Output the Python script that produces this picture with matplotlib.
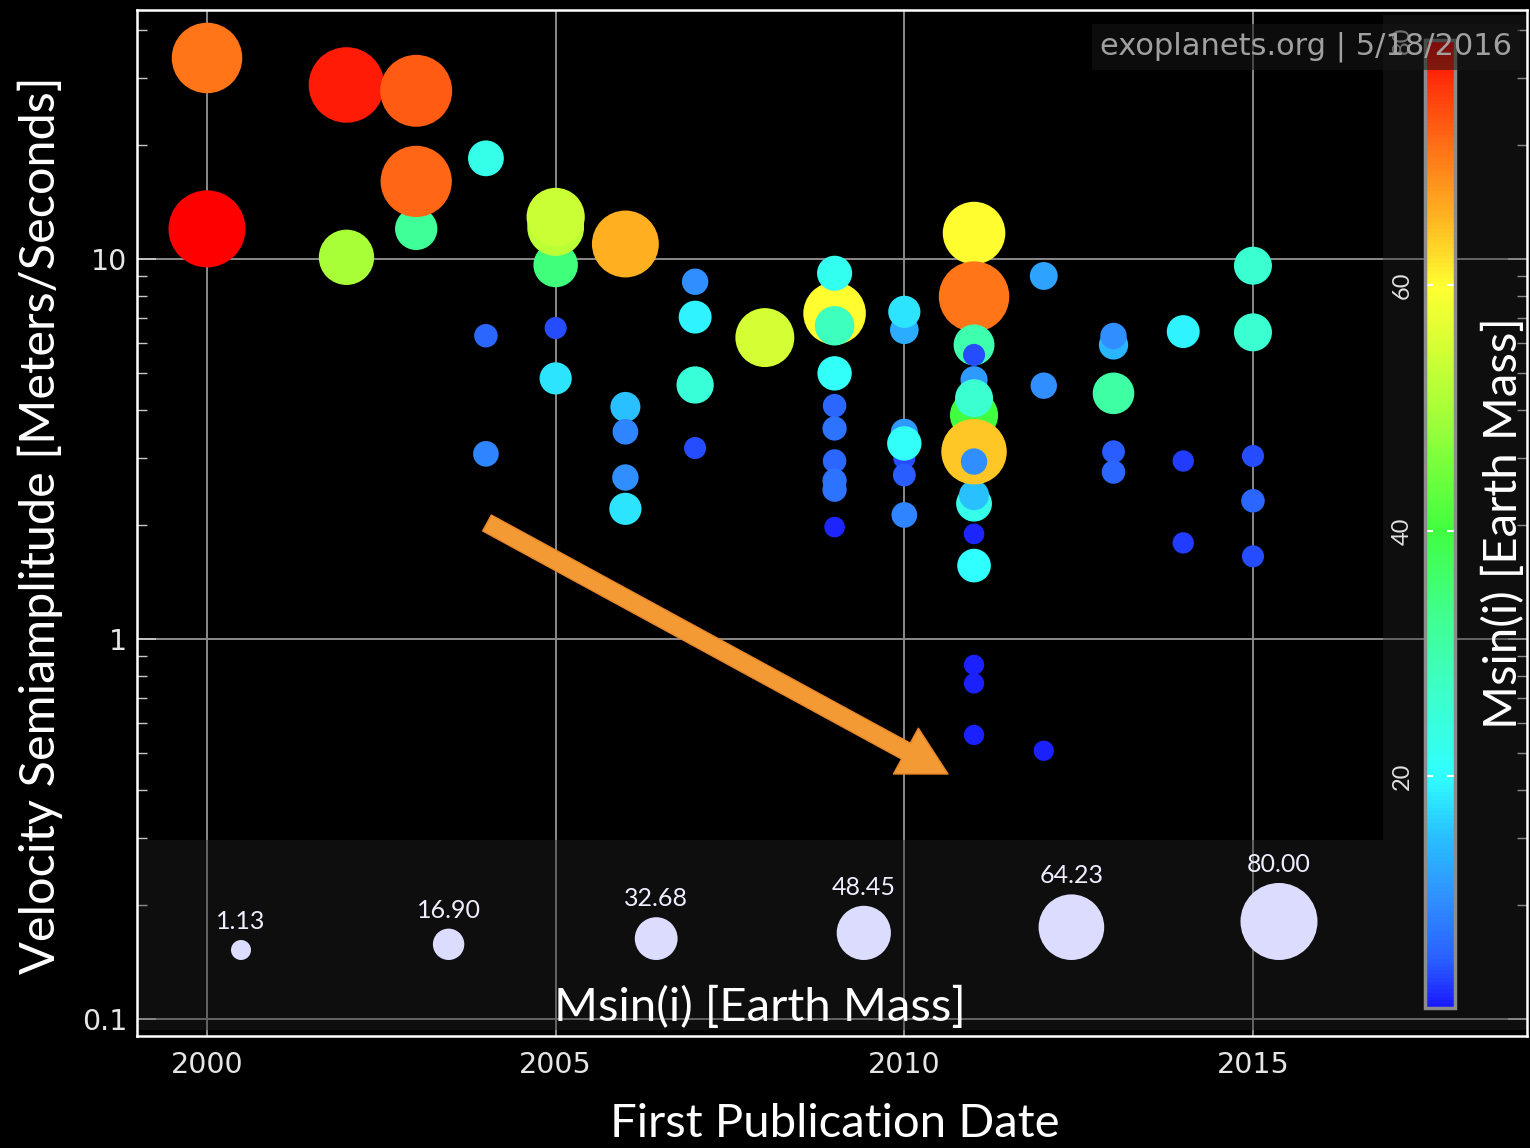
import numpy as np
import matplotlib
matplotlib.use("Agg")
import matplotlib.pyplot as plt
from matplotlib.colors import LinearSegmentedColormap, Normalize
from matplotlib.patches import Rectangle
from matplotlib.ticker import LogLocator, NullFormatter, FixedLocator
import matplotlib.cm as cm

# ---------------- data ----------------
years = [2000, 2000,
         2002, 2002,
         2003, 2003, 2003,
         2004, 2004, 2004,
         2005, 2005, 2005, 2005, 2005,
         2006, 2006, 2006, 2006, 2006,
         2007, 2007, 2007, 2007,
         2008,
         2009, 2009, 2009, 2009, 2009, 2009, 2009, 2009, 2009, 2009,
         2010, 2010, 2010, 2010, 2010, 2010, 2010,
         2011, 2011, 2011, 2011, 2011, 2011, 2011, 2011, 2011, 2011, 2011, 2011, 2011, 2011, 2011, 2011,
         2012, 2012, 2012,
         2013, 2013, 2013, 2013, 2013,
         2014, 2014, 2014,
         2015, 2015, 2015, 2015, 2015]
velocity = [33.8, 12.0,
            28.7, 10.1,
            27.7, 12.0, 16.0,
            18.4, 6.28, 3.07,
            9.64, 12.1, 12.9, 6.58, 4.85,
            10.95, 4.08, 3.51, 2.66, 2.20,
            8.71, 7.03, 4.66, 3.18,
            6.21,
            7.19, 6.67, 9.17, 5.00, 4.11, 3.58, 2.94, 2.47, 2.61, 1.97,
            6.51, 7.26, 3.50, 2.99, 3.27, 2.70, 2.12,
            11.7, 7.96, 5.94, 5.59, 4.81, 3.88, 4.30, 2.27, 2.39, 3.11, 2.93, 1.89, 1.56, 0.855, 0.764, 0.559,
            9.02, 4.64, 0.508,
            5.94, 6.27, 4.43, 3.11, 2.75,
            6.44, 2.94, 1.79,
            9.60, 6.41, 3.03, 2.31, 1.65]
msini = [71, 80,
         78, 50,
         73, 32, 72,
         23, 6, 9,
         35, 52, 54, 4, 18,
         66, 15, 9, 10, 18,
         10, 19, 25, 4,
         55,
         60, 28, 22, 21, 6, 7, 6, 7, 7, 2,
         13, 18, 11, 4, 21, 5, 9,
         60, 71, 30, 4, 11, 40, 26, 23, 15, 64, 10, 2, 20, 1.5, 1.5, 1.5,
         12, 10, 1.5,
         14, 10, 31, 5, 6,
         19, 3, 3,
         26, 26, 4, 6, 4]

legend_masses = [1.13, 16.90, 32.68, 48.45, 64.23, 80.00]
cbar_ticks = [20, 40, 60, 80]
x_ticks = [2000, 2005, 2010, 2015]
x_tick_labels = ["2000", "2005", "2010", "2015"]
y_ticks = [0.1, 1, 10]
y_tick_labels = ["0.1", "1", "10"]

# ---------------- styling helpers ----------------
W, H = 1530, 1148
MMIN, MMAX = 1.13, 80.0

cmap = LinearSegmentedColormap.from_list("exo", [
    (0.000, "#1a1aff"),
    (0.049, "#2a60ff"),
    (0.112, "#3090ff"),
    (0.176, "#28c0ff"),
    (0.239, "#30ffff"),
    (0.328, "#3cffc8"),
    (0.404, "#40ff90"),
    (0.493, "#40ff40"),
    (0.620, "#a8ff38"),
    (0.746, "#ffff30"),
    (0.822, "#ffb020"),
    (0.886, "#ff7518"),
    (0.949, "#ff3a0c"),
    (1.000, "#ff0000"),
])
norm = Normalize(MMIN, MMAX)


def size_pts2(m):
    d_px = 20 + 0.723 * (np.asarray(m, dtype=float) - MMIN)
    return (d_px * 72.0 / 100.0) ** 2


def fx(px):
    return px / W


def fy(py):
    return 1 - py / H


LABEL_FONT = ["Lato", "DejaVu Sans"]
TICK_FONT = ["DejaVu Sans"]

fig = plt.figure(figsize=(W / 100, H / 100), dpi=100, facecolor="black")
ax = fig.add_axes([fx(137), fy(1036), (1527 - 137) / W, (1036 - 10) / H])
ax.set_facecolor("black")
ax.set_yscale("log")
ax.set_xlim(1998.996, 2018.93)
ax.set_ylim(0.0902, 45.2)

for sp in ax.spines.values():
    sp.set_color("white")
    sp.set_linewidth(1.8)

ax.xaxis.set_major_locator(FixedLocator(x_ticks))
ax.set_xticklabels(x_tick_labels)
ax.yaxis.set_major_locator(FixedLocator(y_ticks))
ax.set_yticklabels(y_tick_labels)
ax.yaxis.set_minor_locator(LogLocator(base=10, subs=np.arange(2, 10)))
ax.yaxis.set_minor_formatter(NullFormatter())
ax.tick_params(axis="x", which="major", direction="in", length=0, pad=11,
               labelsize=20.5, labelcolor="#e6e6e6")
ax.tick_params(axis="y", which="major", direction="in", length=14, width=1.3,
               color="#c8c8c8", pad=7, labelsize=20.5, labelcolor="#e6e6e6",
               right=True)
ax.tick_params(axis="y", which="minor", direction="in", length=7, width=1.0,
               color="#c8c8c8", right=True)
for lab in ax.get_xticklabels() + ax.get_yticklabels():
    lab.set_family(TICK_FONT)

ax.grid(True, which="major", color="#8a8a8a", linewidth=1.4, zorder=0)
ax.set_axisbelow(True)

# translucent panels (legend strip and colorbar strip)
ax.add_patch(Rectangle((0, 0.0058), 0.8964, 0.1852, transform=ax.transAxes,
                       facecolor="#262626", alpha=0.38, lw=0, zorder=1.5))
ax.add_patch(Rectangle((0.8964, 0.0058), 0.1036, 0.9893, transform=ax.transAxes,
                       facecolor="#262626", alpha=0.38, lw=0, zorder=1.5))

# data points
ax.scatter(years, velocity, s=size_pts2(msini), c=msini, cmap=cmap, norm=norm,
           linewidths=0, zorder=3)

# size legend
lx = np.linspace(241, 1279, len(legend_masses))
ld = 20 + 0.723 * (np.array(legend_masses) - MMIN)
ly = 960 - ld / 2
ax.scatter(fx(lx), fy(ly), s=size_pts2(legend_masses), color="#dcdcff",
           linewidths=0, transform=fig.transFigure, clip_on=False, zorder=4)
for xv, yv, dv, mv in zip(lx, ly, ld, legend_masses):
    ax.text(fx(xv), fy(yv - dv / 2 - 11), f"{mv:.2f}", transform=fig.transFigure,
            ha="center", va="baseline", color="#eeeeff", fontsize=18,
            family=LABEL_FONT, zorder=4)
fig.text(fx(760), fy(1007), "Msin(i) [Earth Mass]", ha="center", va="center",
         color="white", fontsize=34, family=LABEL_FONT)

# axis labels
fig.text(fx(835), fy(1124), "First Publication Date", ha="center", va="center",
         color="white", fontsize=34, family=LABEL_FONT)
fig.text(fx(40), fy(525), "Velocity Semiamplitude [Meters/Seconds]", ha="center",
         va="center", rotation=90, color="white", fontsize=35, family=LABEL_FONT)

# colorbar
cax = fig.add_axes([fx(1425), fy(1008), 30 / W, 968 / H])
sm = cm.ScalarMappable(norm=norm, cmap=cmap)
cb = fig.colorbar(sm, cax=cax, ticks=cbar_ticks)
cb.outline.set_edgecolor("#8c8c8c")
cb.outline.set_linewidth(2.5)
cax.yaxis.set_ticks_position("both")
cax.tick_params(axis="y", direction="in", length=6, width=1.5, color="white",
                left=True, right=True, labelleft=True, labelright=False,
                labelsize=17, labelcolor="#e0e0e0", pad=9)
for lab in cax.get_yticklabels():
    lab.set_rotation(90)
    lab.set_va("center")
    lab.set_family(LABEL_FONT)
fig.text(fx(1503), fy(523), "Msin(i) [Earth Mass]", ha="center", va="center",
         rotation=90, color="white", fontsize=34, family=LABEL_FONT)

# annotation arrow
ax.annotate("", xy=(fx(948), fy(774)), xytext=(fx(487), fy(523)),
            xycoords="figure fraction", textcoords="figure fraction",
            arrowprops=dict(arrowstyle="simple,head_length=2.3,head_width=2.5,tail_width=0.87",
                            mutation_scale=15, fc="#f39a35", ec="#e8882a", lw=1,
                            shrinkA=0, shrinkB=0), zorder=5)

# watermark
fig.text(fx(1512), fy(47), "exoplanets.org | 5/18/2016", ha="right", va="center",
         color="#a0a0a0", fontsize=22, family=TICK_FONT,
         bbox=dict(facecolor="#161616", alpha=0.55, edgecolor="none",
                   boxstyle="square,pad=0.25"))

fig.savefig("out.png", dpi=100, facecolor="black")
